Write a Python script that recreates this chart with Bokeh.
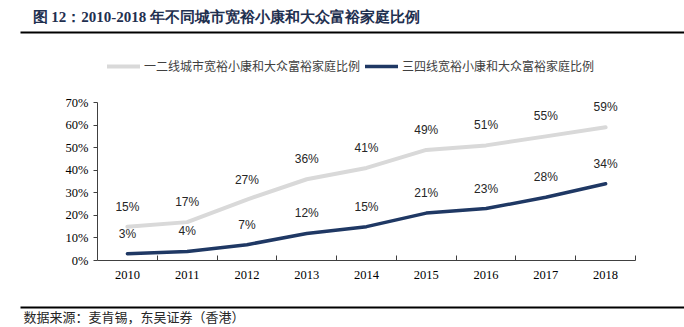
from bokeh.plotting import figure
from bokeh.models import (Range1d, FixedTicker, PrintfTickFormatter,
                          Legend, LegendItem, ColumnDataSource, LinearAxis)
from bokeh.core.properties import value
from bokeh.embed import file_html
from bokeh.resources import INLINE

years = ["2010", "2011", "2012", "2013", "2014", "2015", "2016", "2017", "2018"]
tier12 = [15, 17, 27, 36, 41, 49, 51, 55, 59]
tier34 = [3, 4, 7, 12, 15, 21, 23, 28, 34]
y_ticks = [0, 10, 20, 30, 40, 50, 60, 70]
series_names = ["一二线城市宽裕小康和大众富裕家庭比例", "三四线宽裕小康和大众富裕家庭比例"]
title_text = "图 12：2010-2018 年不同城市宽裕小康和大众富裕家庭比例"
source_text = "数据来源：麦肯锡，东吴证券（香港）"

# canvas layout (pixels)
W, H = 684, 327
AX_L, AX_R = 97, 635      # x-axis extent
AX_B, AX_T = 260, 102     # y of 0% and 70%

n = len(years)
x_scale = (AX_R - AX_L) / n
y_scale = (AX_B - AX_T) / (y_ticks[-1] - y_ticks[0])
yr_range = Range1d(-AX_L / x_scale, (W - AX_L) / x_scale)
pct_range = Range1d(y_ticks[0] - (H - AX_B) / y_scale, y_ticks[0] + AX_B / y_scale)

p = figure(width=W, height=H, x_range=Range1d(0, W), y_range=Range1d(H, 0),
           output_backend="svg", toolbar_location=None, min_border=0,
           x_axis_type=None, y_axis_type=None)
p.extra_x_ranges = {"yr": yr_range}
p.extra_y_ranges = {"pct": pct_range}
p.outline_line_color = None
p.background_fill_color = "white"
p.border_fill_color = "white"

axis_color = "#404040"
x = [i + 0.5 for i in range(n)]

xa = LinearAxis(x_range_name="yr", y_range_name="pct", fixed_location=y_ticks[0],
                bounds=(0, n),
                ticker=FixedTicker(ticks=x, minor_ticks=list(range(1, n + 1))),
                major_label_overrides={xi: yr for xi, yr in zip(x, years)})
xa.major_tick_line_color = None
xa.major_tick_in = 0
xa.major_tick_out = 0
xa.minor_tick_in = 5
xa.minor_tick_out = 0
xa.minor_tick_line_color = axis_color
xa.axis_line_color = axis_color
xa.major_label_text_font = "Liberation Serif"
xa.major_label_text_font_size = "12.5px"
xa.major_label_text_color = "black"
xa.major_label_standoff = 10
p.add_layout(xa, "below")

ya = LinearAxis(x_range_name="yr", y_range_name="pct", fixed_location=0,
                bounds=(y_ticks[0], y_ticks[-1]),
                ticker=FixedTicker(ticks=y_ticks), formatter=PrintfTickFormatter(format="%d%%"))
ya.major_tick_in = 0
ya.major_tick_out = 4
ya.major_tick_line_color = axis_color
ya.minor_tick_line_color = None
ya.axis_line_color = axis_color
ya.major_label_text_font = "Liberation Serif"
ya.major_label_text_font_size = "12.5px"
ya.major_label_text_color = "black"
ya.major_label_standoff = 5
p.add_layout(ya, "left")

src1 = ColumnDataSource(dict(x=x, y=tier12, t=[f"{v}%" for v in tier12]))
src2 = ColumnDataSource(dict(x=x, y=tier34, t=[f"{v}%" for v in tier34]))

r1 = p.line("x", "y", source=src1, x_range_name="yr", y_range_name="pct",
            line_color="#d9d9d9", line_width=4, line_join="round", line_cap="round")
r2 = p.line("x", "y", source=src2, x_range_name="yr", y_range_name="pct",
            line_color="#1f3864", line_width=3.5, line_join="round", line_cap="round")

for s in (src1, src2):
    p.text("x", "y", text="t", source=s, x_range_name="yr", y_range_name="pct",
           y_offset=-20, text_align="center", text_baseline="middle",
           text_font=value("Liberation Sans"), text_font_size="12px", text_color="#262626")

legend = Legend(items=[LegendItem(label=series_names[0], renderers=[r1]),
                       LegendItem(label=series_names[1], renderers=[r2])],
                orientation="horizontal", location=(107, H - 60 - 14),
                padding=0, margin=0, spacing=5, label_standoff=4,
                glyph_width=33, glyph_height=14, label_height=14,
                label_text_font="Noto Sans CJK SC", label_text_font_size="12px",
                label_text_color="#404040", border_line_color=None,
                background_fill_alpha=0)
p.add_layout(legend, "center")

# header and footer
p.text([32], [16], text=[title_text], text_font=value("Liberation Serif"),
       text_font_style="bold", text_font_size="15px", text_color="#1f3050",
       text_baseline="middle")
p.segment([20, 20], [32, 307], [W, W], [32, 307], line_color="black", line_width=2)
p.text([23], [316], text=[source_text], text_font=value("Noto Sans CJK SC"),
       text_font_size="13px", text_color="#262626", text_baseline="middle")

open("out.html", "w").write(file_html(p, INLINE))
